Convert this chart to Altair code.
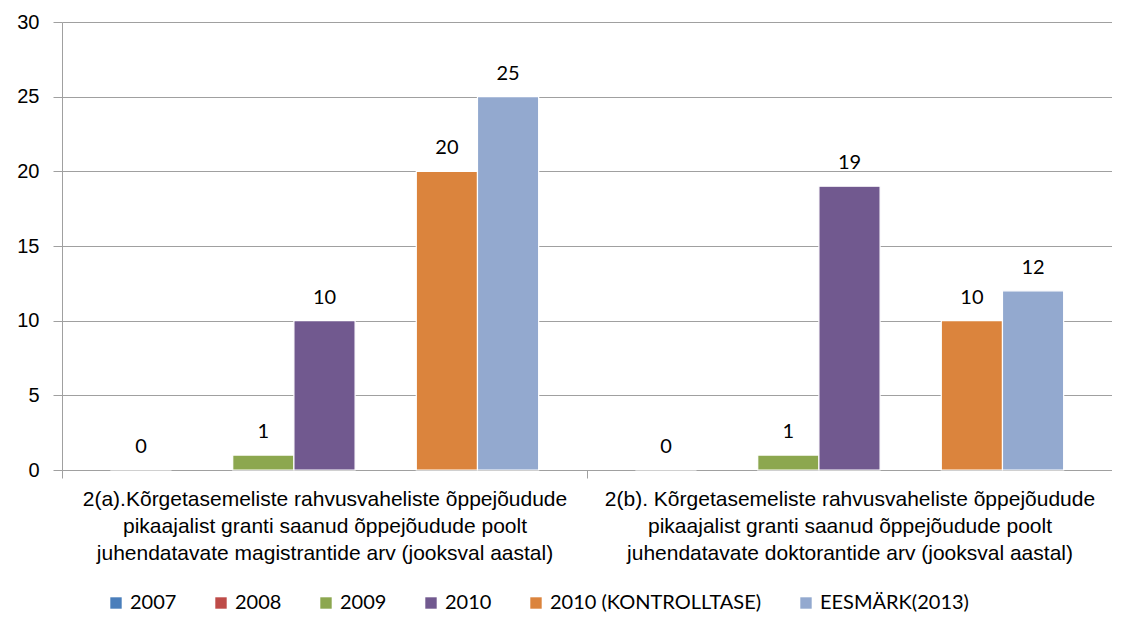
import altair as alt
import pandas as pd

groups = [
    "2(a).Kõrgetasemeliste rahvusvaheliste õppejõudude\npikaajalist granti saanud õppejõudude poolt\njuhendatavate magistrantide arv (jooksval aastal)",
    "2(b). Kõrgetasemeliste rahvusvaheliste õppejõudude\npikaajalist granti saanud õppejõudude poolt\njuhendatavate doktorantide arv (jooksval aastal)",
]
series = ["2007", "2008", "2009", "2010", "2010 (KONTROLLTASE)", "EESMÄRK(2013)"]
slots = ["2007", "2008", "2009", "2010", "(tühi)", "2010 (KONTROLLTASE)", "EESMÄRK(2013)"]
values_a = [0, None, 1, 10, 20, 25]
values_b = [0, None, 1, 19, 10, 12]
colors = ["#4A7EBB", "#BE4B48", "#8CA74F", "#71598F", "#DB843D", "#93A9CF"]
y_ticks = [0, 5, 10, 15, 20, 25, 30]

rows = []
for g, vals in zip(groups, [values_a, values_b]):
    for s, v in zip(series, vals):
        rows.append({"group": g, "series": s, "value": v})
df = pd.DataFrame(rows)

x = alt.X(
    "group:N",
    sort=groups,
    title=None,
    scale=alt.Scale(paddingInner=0, paddingOuter=0),
    axis=alt.Axis(
        labelAngle=0,
        labelExpr="split(datum.label, '\\n')",
        labelFont="Liberation Sans",
        labelFontSize=21,
        labelLineHeight=27,
        labelPadding=10,
        labelLimit=1000,
        labelColor="#000000",
        tickBand="extent",
        tickSize=8,
        tickColor="#A0A0A0",
        domainColor="#A0A0A0",
        grid=False,
    ),
)
xoff = alt.XOffset(
    "series:N",
    scale=alt.Scale(domain=slots, paddingInner=0, paddingOuter=0.79),
)
y = alt.Y(
    "value:Q",
    title=None,
    scale=alt.Scale(domain=[0, 30], nice=False),
    axis=alt.Axis(
        values=y_ticks,
        labelFont="Liberation Sans",
        labelFontSize=20,
        labelColor="#000000",
        labelPadding=14,
        tickSize=9,
        tickColor="#A0A0A0",
        domainColor="#A0A0A0",
        gridColor="#A0A0A0",
    ),
)
color = alt.Color(
    "series:N",
    scale=alt.Scale(domain=series, range=colors),
    legend=alt.Legend(
        title=None,
        orient="none",
        direction="horizontal",
        legendX=44,
        legendY=571,
        symbolType="square",
        symbolSize=130,
        symbolStrokeWidth=0,
        labelFont="Lato",
        labelFontSize=20,
        labelColor="#000000",
        labelOffset=4,
        columnPadding=34,
        labelLimit=400,
    ),
)

bars = alt.Chart(df).mark_bar(stroke="#FFFFFF", strokeWidth=1.2).encode(
    x=x, xOffset=xoff, y=y, color=color
)
labels = (
    alt.Chart(df)
    .transform_filter("datum.value != null")
    .mark_text(font="Lato", fontSize=20, color="#000000", baseline="alphabetic", dy=-17)
    .encode(x=x, xOffset=xoff, y=y, text=alt.Text("value:Q"))
)

chart = (
    alt.layer(bars, labels)
    .properties(
        width=1050,
        height=448,
        autosize=alt.AutoSizeParams(type="none"),
        padding={"left": 54, "top": 14, "right": 0, "bottom": 145},
    )
    .configure_view(stroke=None)
    .configure_axis(gridWidth=1)
)

chart.save("out.html", embed_options={"renderer": "svg", "actions": False})
